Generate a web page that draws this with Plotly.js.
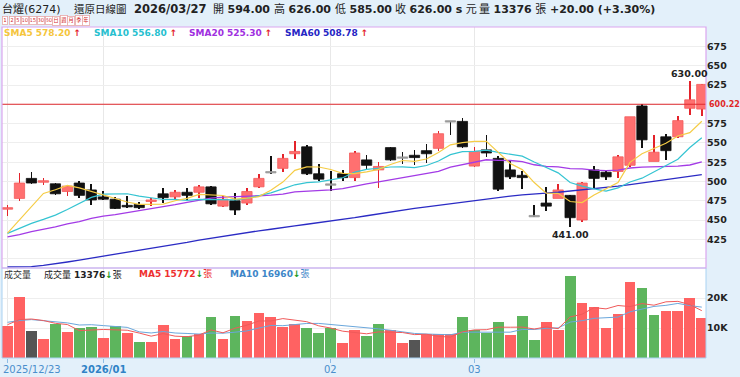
<!DOCTYPE html>
<html><head><meta charset="utf-8">
<script src="https://cdn.plot.ly/plotly-3.0.1.min.js"></script>
<style>html,body{margin:0;padding:0;background:#e3f0fa;}#chart{width:740px;height:377px;}</style>
</head><body><div id="chart"></div>
<script>
// ---------- data ----------
const xTickIdx  = [0, 8, 27, 39];
const xTickText = ['2025/12/23', '2026/01', '02', '03'];
const prevClose = 460;
const opens  = [464,478,504,499,497,487,498,489,480,477,469,470,474,484,480,486,486,493,468,475,472,493,512,517,536,545,510,496,510,505,528,515,544,531,534,540,543,578,578,520,541,530,515,508,455,472,478,482,450,515,512,513,521,598,526,558,558,595,594];
const highs  = [469,511,512,505,498,496,500,497,487,480,481,474,479,491,489,491,495,494,481,485,491,510,533,536,553,548,523,514,515,539,534,525,544.5,538,541,549,566,579,582,545,560,533,528,513,470,493,497,483,499,520,515,534,584,600,560,562,585,630,626];
const lows   = [455,475,497,495,482,481,479,469,476,464,466,464,468,472,477,476,478,470,467,456,469,492,510,512,529,509,501,488,500,500,515,491,527,523,522,524,540,560,544,519,532,487,503,490,454,462,478,441,448,491,502,504,519,543,526,528,556,586,585];
const closes = [466,498,498,501,484,494,482,476,477,465,467,466,476,479,486,482,493,471,477,463,487,504,512,530,539,510,503,496,505,537,521,519.5,528,531,531,536,562,578,545,539,537,490,506,505,455,468,489,453,498,504,506,532,584,554,538,540,579,606,626];
const sma5   = [433,450,467,484.5,489.2,494.8,491.8,487.4,482.6,478.8,473.4,470.2,470.2,470.6,475,478,483.2,482.2,481.8,477.2,478.2,480.4,488.6,499.2,514.4,519,518.8,515.6,510.6,510.2,512.4,515.7,522,527.2,526,529.2,537.6,547.6,550.4,552,552.2,537.8,523.4,515.4,498.6,484.8,484.6,474,472.6,482.4,490,498.6,524.8,536,542.8,549.6,559,563.4,578.2];
const sma10  = [432.6,439,445.6,450.8,456.4,463.7,471.5,479.3,483.5,484,484.1,481,478.8,476.6,476.8,475.6,476.7,476.2,476.2,476,478,481.7,485.3,490.4,495.7,498.5,499.5,502,504.8,512.2,515.6,517.2,518.8,518.9,518.1,520.7,526.6,534.8,538.8,539,540.7,537.7,535.5,532.9,525.3,518.5,511.2,498.7,494,490.5,487.4,491.6,499.4,504.3,512.6,519.8,528.8,544.1,556.8];
const sma20  = [428,431,435,438,441,445,448,452,455,457,459.5,462,464.5,467,470,473,476,478.5,479.8,480.1,481.1,481.5,482.2,483.6,486.4,487.2,488.2,489.2,490.6,494.2,496.9,499.5,502.1,504.7,507,509.7,513.1,518.5,521.9,525.7,528.2,527.5,527.2,525.9,521.7,519.6,518.9,516.8,516.4,514.8,514.1,514.7,517.5,518.6,519,519.2,520,521.4,525.3];
const sma60  = [389,389,389.5,391,393,395.5,398,400.5,403.5,406,408,410.5,413,415.5,418,421,424,426.5,429,431.5,434,436,438,440.5,442.5,444.5,446.5,449,451,453,455.5,458,460.5,463,465,467,469,471,473.5,475.5,477.5,479.5,481,482.5,484,485,486,487.5,489,490.5,492,494,496,498,500,502,504.5,506.5,508.8];
const volume = [10800,20300,9000,6200,11500,8800,10100,10400,6800,10800,8200,5400,5200,11100,6500,7300,8100,13800,6300,14100,12400,15100,13800,10300,11300,10000,8200,10100,5100,9400,7500,11400,9200,4900,6000,8100,7900,7900,13700,9200,8500,12100,7800,13900,6000,12000,9200,27300,18500,16900,10000,14800,25500,23500,14200,15600,15600,20100,13376];
const volMA5 = [11100,12800,13000,12500,11560,11160,9120,9400,9520,9380,9260,8320,7280,8140,7280,7100,7640,9360,8400,9920,10940,12340,12340,13140,12580,12100,10720,9980,8940,8560,8060,8700,8520,8480,7800,7920,7220,6960,8720,9360,9440,10280,10260,10300,9660,10360,9780,13680,14600,16780,16380,17500,17140,18140,17600,18720,18880,17800,15772];
const volMA10= [11900,12500,12800,12400,12100,11700,11000,11100,10800,10470,10210,8720,8340,8830,8330,8180,7980,8320,8270,8600,9020,9990,10850,10770,11250,11520,11530,11160,11040,10570,10080,9710,9250,8710,8180,7990,7960,7740,8600,8580,8680,8750,8610,9510,9510,9900,10030,11970,12450,13220,13370,13640,15410,16370,17190,17550,18190,17470,16960];
const priceTicks = [400,425,450,475,500,525,550,575,600,625,650,675];
const priceTickText = ['','425','450','475','500','525','550','575','','625','650','675'];
const volTicks = [10000,20000];
const volTickText = ['10K','20K'];
const refLine = 600.22;
const hiIdx = 57, loIdx = 47;

// ---------- geometry ----------
const W=740,H=377,ML=2,MR=34,MT=27,MB=19;
const PW=W-ML-MR, PH=H-MT-MB;
const px = x => (x-ML)/PW;
const py = y => (H-MB-y)/PH;
const split = py(268);
const FONT = 'DejaVu Sans, Noto Sans CJK TC, sans-serif';

const idx = opens.map((_,i)=>i);
const UP_BODY='#ff7070', UP_EDGE='#f25c5c', UP_WICK='#e3222a', DN='#111111', DOJI='#9b9b9b';
const dir = idx.map(i => closes[i]>opens[i]?1:(closes[i]<opens[i]?-1:0));
const bodyBase=[], bodyH=[], bodyCol=[], bodyEdge=[], wickCol=[];
idx.forEach(i=>{
  let b=Math.min(opens[i],closes[i]), h=Math.abs(closes[i]-opens[i]);
  if(h<1.8){ b=(opens[i]+closes[i])/2-0.9; h=1.8; }
  bodyBase.push(b); bodyH.push(h);
  bodyCol.push(dir[i]>0?UP_BODY:(dir[i]<0?DN:DOJI));
  bodyEdge.push(dir[i]>0?UP_EDGE:(dir[i]<0?DN:DOJI));
  wickCol.push(dir[i]>0?UP_WICK:DN);
});
const volCol = idx.map(i=>{
  const p = i===0?prevClose:closes[i-1];
  return closes[i]>p?'#ff6262':(closes[i]<p?'#5db55d':'#555555');
});

const traces = [
  {type:'bar', x:idx, base:lows, y:idx.map(i=>highs[i]-lows[i]), width:0.14,
   marker:{color:wickCol, line:{width:0}}, yaxis:'y', hoverinfo:'skip'},
  {type:'bar', x:idx, base:bodyBase, y:bodyH, width:0.86,
   marker:{color:bodyCol, line:{color:bodyEdge, width:0.8}}, yaxis:'y', hoverinfo:'skip'},
  {type:'scatter', mode:'lines', x:idx, y:sma60, line:{color:'#2b2bc4', width:1.3}, yaxis:'y'},
  {type:'scatter', mode:'lines', x:idx, y:sma20, line:{color:'#a33be6', width:1.3}, yaxis:'y'},
  {type:'scatter', mode:'lines', x:idx, y:sma10, line:{color:'#35c4d2', width:1.2}, yaxis:'y'},
  {type:'scatter', mode:'lines', x:idx, y:sma5,  line:{color:'#f5cc45', width:1.2}, yaxis:'y'},
  {type:'bar', x:idx, y:volume, width:0.9, marker:{color:volCol, line:{width:0}}, yaxis:'y2'},
  {type:'scatter', mode:'lines', x:idx, y:volMA10, line:{color:'#6aa7dc', width:1}, yaxis:'y2'},
  {type:'scatter', mode:'lines', x:idx, y:volMA5,  line:{color:'#f05a5a', width:1}, yaxis:'y2'}
];

const anns = [];
function ann(x,y,text,o){
  o=o||{};
  anns.push(Object.assign({xref:'paper',yref:'paper',x:px(x),y:py(y),text:text,showarrow:false,
    xanchor:'left',yanchor:'middle',font:{family:FONT,size:o.size||10.5,color:o.color||'#222'}},o.extra||{}));
}
// header row
ann(0,9,'台燿(6274)',{size:11});
ann(72,9,'還原日線圖',{size:10.5});
ann(132,9,'<b>2026/03/27</b>',{size:11.5});
ann(211,9,'開 <b>594.00</b>',{size:11});
ann(272,9,'高 <b>626.00</b>',{size:11});
ann(333,9,'低 <b>585.00</b>',{size:11});
ann(393,9,'收 <b>626.00 s</b> 元',{size:11});
ann(477,9,'量 <b>13376</b> 張',{size:11});
ann(548,9,'<b>+20.00 (+3.30%)</b>',{size:11});
// small buttons
const btns=['1','2','5','10','15','30','60','日','週','月','季','年'];
const btnX=[5,11.7,18.3,25.3,33.3,41.3,49,56.3,64.3,71.3,79,86.3];
btns.forEach((b,k)=>{
  anns.push({xref:'paper',yref:'paper',x:px(btnX[k]),y:py(21),text:b,showarrow:false,
    xanchor:'center',yanchor:'middle',font:{family:FONT,size:5.5,color:'#d42a2a'},
    bgcolor:'#ffffff',bordercolor:'#e8a8a8',borderwidth:0.8,borderpad:0.6,
    width:(b.length>1||/[^0-9]/.test(b))?5.4:3.2});
});
// SMA legend row
const up='<b><span style="color:#e3202a">↑</span></b>';
ann(2,33,'<b>SMA5 578.20</b> '+up,{size:9,color:'#f5c53c'});
ann(92,33,'<b>SMA10 556.80</b> '+up,{size:9,color:'#27bfcf'});
ann(187,33,'<b>SMA20 525.30</b> '+up,{size:9,color:'#a02fe0'});
ann(283,33,'<b>SMA60 508.78</b> '+up,{size:9,color:'#2525c4'});
// volume header
const dn='<b><span style="color:#1c9a1c">↓</span></b>';
ann(2,274,'成交量',{size:9,color:'#333'});
ann(42,274,'成交量 <b>13376</b>'+dn+'張',{size:9,color:'#222'});
ann(137,274,'<b>MA5 15772</b>'+dn+'張',{size:9,color:'#ee3030'});
ann(228,274,'<b>MA10 16960</b>'+dn+'張',{size:9,color:'#3d86c8'});
// x labels
ann(1,369,xTickText[0],{size:10,color:'#4a8fcc'});
anns.push({xref:'x',yref:'paper',x:xTickIdx[1],y:py(369),text:'<b>'+xTickText[1]+'</b>',showarrow:false,xanchor:'center',yanchor:'middle',font:{family:FONT,size:10,color:'#2f82c6'}});
[2,3].forEach(k=>anns.push({xref:'x',yref:'paper',x:xTickIdx[k],y:py(369),text:xTickText[k],showarrow:false,xanchor:'center',yanchor:'middle',font:{family:FONT,size:10,color:'#4a8fcc'}}));
// ref line label, hi/lo labels
anns.push({xref:'paper',yref:'y',x:px(707),y:refLine,text:'<b>'+refLine.toFixed(2)+'</b>',showarrow:false,xanchor:'left',yanchor:'middle',font:{family:FONT,size:8,color:'#e02828'}});
anns.push({xref:'x',yref:'y',x:hiIdx,y:highs[hiIdx],text:'<b>'+highs[hiIdx].toFixed(2)+'</b>',showarrow:false,xanchor:'center',yanchor:'bottom',yshift:0,font:{family:FONT,size:9.5,color:'#222'}});
anns.push({xref:'x',yref:'y',x:loIdx,y:lows[loIdx],text:'<b>'+lows[loIdx].toFixed(2)+'</b>',showarrow:false,xanchor:'center',yanchor:'top',yshift:0,font:{family:FONT,size:9.5,color:'#222'}});

const layout = {
  width:W, height:H, margin:{l:ML,r:MR,t:MT,b:MB,pad:0},
  paper_bgcolor:'#e3f0fa', plot_bgcolor:'#ffffff',
  showlegend:false, barmode:'overlay', bargap:0, hovermode:false,
  xaxis:{anchor:'y2', range:[-0.46,58.35], tickvals:xTickIdx, ticktext:xTickIdx.map(()=>''),
    showgrid:true, gridcolor:'#e8e8e8', gridwidth:1, zeroline:false, showline:false,
    ticks:'outside', ticklen:4, tickcolor:'#8fbde6', fixedrange:true},
  yaxis:{domain:[split,1], range:[387.7,700.5], side:'right', tickvals:priceTicks, ticktext:priceTickText,
    showgrid:true, gridcolor:'#eeeeee', zeroline:false, showline:false, ticks:'', ticklen:0,
    tickfont:{family:FONT,size:9.5,color:'#222',weight:'bold'}},
  yaxis2:{domain:[0,split], range:[0,30000], side:'right', tickvals:volTicks, ticktext:volTickText,
    showgrid:true, gridcolor:'#eeeeee', zeroline:false, showline:false, ticks:'',
    tickfont:{family:FONT,size:9.5,color:'#222',weight:'bold'}},
  shapes:[
    {type:'rect',xref:'paper',yref:'paper',x0:0,x1:1,y0:0,y1:split,line:{color:'#a9d2f2',width:1}},
    {type:'line',xref:'paper',yref:'y',x0:0,x1:1,y0:refLine,y1:refLine,line:{color:'#e0282e',width:1}},
    {type:'rect',xref:'paper',yref:'paper',x0:0,x1:1,y0:split,y1:1,line:{color:'#dba6ee',width:1.2}}
  ],
  annotations:anns
};
Plotly.newPlot('chart', traces, layout, {staticPlot:true, displayModeBar:false});
</script></body></html>
